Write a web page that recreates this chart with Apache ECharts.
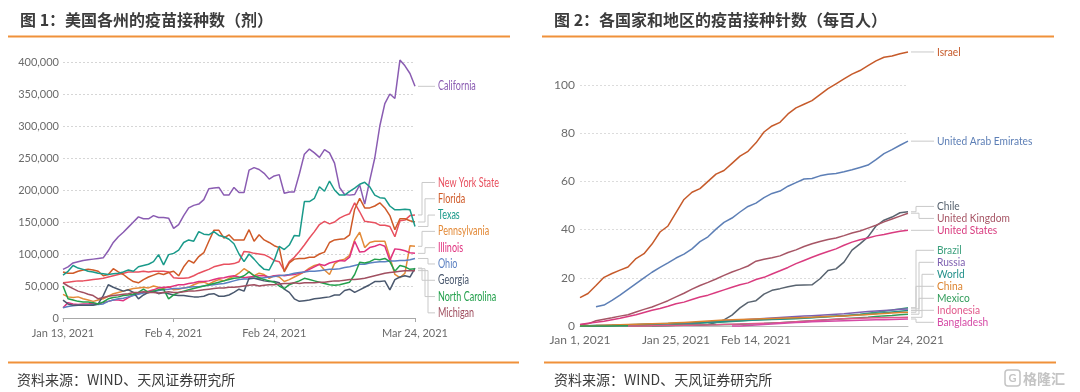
<!DOCTYPE html>
<html>
<head>
<meta charset="utf-8">
<script src="https://cdn.jsdelivr.net/npm/echarts@6/dist/echarts.min.js"></script>
<style>
html,body{margin:0;padding:0;background:#fff;}
#c{width:1080px;height:392px;}
</style>
</head>
<body>
<div id="c"></div>
<script>
// ---------- Titles / footers ----------
const leftTitle = '图 1：美国各州的疫苗接种数（剂）';
const rightTitle = '图 2：各国家和地区的疫苗接种针数（每百人）';
const sourceText = '资料来源：WIND、天风证券研究所';
const watermarkText = '格隆汇';

// ---------- Left chart: daily doses by US state (thousands), Jan 13 – Mar 24, 2021 ----------
const leftTickLabels = ['Jan 13, 2021', 'Feb 4, 2021', 'Feb 24, 2021', 'Mar 24, 2021'];
const leftNames = ['California', 'New York State', 'Florida', 'Texas', 'Pennsylvania', 'Illinois', 'Ohio', 'Georgia', 'North Carolina', 'Michigan'];

const california = [76,80,86,88,90,91,92,93,94,105,
  118,127,134,142,150,158,155,155,160,157,
  157,156,140,146,160,172,176,178,185,202,
  203,204,192,192,204,196,196,231,235,232,
  226,217,222,224,195,197,197,225,256,264,
  258,251,263,258,242,204,193,192,193,208,
  178,215,250,300,335,350,343,403,394,382,
  362];
const newYork = [55,56,57,58,58,59,60,61,62,64,
  66,68,70,72,72,72,73,72,73,73,
  73,72,63,62,62,63,66,70,73,76,
  80,82,84,84,85,88,104,103,101,100,
  99,95,90,88,74,88,95,104,114,125,
  135,146,151,147,150,156,160,163,180,166,
  151,150,149,145,145,143,127,152,153,160,
  161];
const florida = [72,70,70,73,75,76,75,73,66,68,
  77,72,68,62,57,55,60,64,67,70,
  68,71,73,66,80,90,86,96,102,120,
  137,137,125,130,122,122,122,138,120,130,
  122,118,113,110,72,86,92,93,93,95,
  95,100,103,118,122,123,124,130,170,187,
  172,172,175,180,172,160,138,155,155,152,
  150];
const texas = [67,73,82,78,76,73,72,70,69,68,
  69,70,72,75,73,80,82,84,88,99,
  83,99,101,106,118,122,120,135,131,130,
  135,129,127,123,116,100,88,100,92,83,
  76,75,90,112,107,114,129,128,182,182,
  187,205,198,214,200,192,192,198,203,209,
  212,205,192,188,187,175,169,169,170,169,
  143];
const pennsylvania = [37,33,32,33,30,28,26,28,30,34,
  38,40,42,44,46,47,48,47,50,48,
  46,49,44,45,47,48,52,55,56,53,
  57,60,58,62,65,70,77,72,66,70,
  68,62,66,64,57,60,64,68,72,78,
  82,84,75,68,85,90,92,98,122,134,
  110,118,120,120,120,95,68,63,70,113,
  112];
const illinois = [16,24,22,21,22,22,23,22,24,26,
  28,28,27,32,36,38,40,42,44,47,
  48,48,50,52,52,54,55,57,57,58,
  60,62,63,65,66,64,63,64,65,66,
  66,64,66,67,66,67,68,70,72,76,
  80,84,82,86,88,90,89,95,120,103,
  104,110,112,115,112,90,108,107,105,102,
  101];
const ohio = [16,18,19,20,20,20,21,21,22,26,
  28,30,31,33,35,37,39,40,41,43,
  44,45,46,46,47,48,49,49,50,51,
  52,53,54,56,58,60,61,61,62,62,
  63,64,65,66,67,68,70,71,72,73,
  73,74,75,76,76,77,79,80,82,84,
  84,86,87,88,88,89,89,90,90,91,
  93];
const georgia = [28,22,20,20,20,20,20,22,35,52,
  48,45,42,44,40,30,36,40,42,38,
  40,38,36,35,35,34,33,33,34,37,
  38,34,34,36,40,45,42,62,62,60,
  58,57,57,55,45,40,30,26,27,28,
  30,31,32,33,36,36,43,45,40,44,
  48,52,57,57,58,44,60,64,66,64,
  78];
const northCarolina = [50,30,28,26,25,25,24,22,25,30,
  32,33,35,36,37,40,45,40,42,44,
  45,30,36,40,42,44,46,48,50,52,
  54,56,58,60,62,63,66,72,66,63,
  60,58,56,50,46,52,55,58,62,60,
  58,56,54,52,51,52,54,56,68,87,
  86,88,92,91,93,88,73,82,80,76,
  77];
const michigan = [55,50,46,42,40,37,35,30,32,34,
  35,36,37,38,40,40,41,40,40,39,
  40,41,40,40,41,42,42,43,44,45,
  46,47,47,48,48,49,50,51,52,50,
  51,52,52,53,54,54,55,54,55,55,
  55,56,56,57,58,58,59,60,60,61,
  62,64,66,68,70,71,72,73,74,74,
  74];
const leftValues = [california, newYork, florida, texas, pennsylvania, illinois, ohio, georgia, northCarolina, michigan];

// ---------- Right chart: doses per 100 people, every 2 days, Jan 1 – Mar 24, 2021 ----------
const rightTickLabels = ['Jan 1, 2021', 'Jan 25, 2021', 'Feb 14, 2021', 'Mar 24, 2021'];
const rightNames = ['Israel', 'United Arab Emirates', 'Chile', 'United Kingdom', 'United States', 'Brazil', 'Russia', 'World', 'China', 'Mexico', 'Indonesia', 'Bangladesh'];

const israel = [11.8,13.5,16.8,20.2,21.8,23.2,24.5,28,30,34,
  39,41.5,47,52.5,55.5,57,60,63,64.5,67.5,
  70.5,72.5,76,80.5,83,84.5,88,90.5,92,93.5,
  96,98.5,100.5,102.5,104.5,106,108,110,111.5,112,
  113,113.7];
const uae = [null,null,8.0,8.7,10.6,12.8,15.2,17.6,20,22.3,
  24.3,26.2,28.2,29.8,32,35,37,40.2,43,44.8,
  47.3,49.6,51,53.3,55,56,58,59.5,61,61.2,
  62.3,63,63.3,64,64.8,65.8,66.8,69,71.5,73.2,
  75,76.7];
const chile = [0.01,0.02,0.03,0.05,0.07,0.1,0.12,0.15,0.18,0.2,
  0.22,0.25,0.28,0.3,0.3,0.35,0.6,1.4,2.5,4.5,
  7.5,9.8,10.5,13.2,14.8,15.5,16.3,16.9,17.0,17.1,
  19.6,23.0,23.7,26.5,31.5,34.1,37.0,41.5,43.9,45.2,
  47.0,47.4];
const unitedKingdom = [0.5,0.9,2.2,2.8,3.4,4.1,4.7,5.8,6.9,7.9,
  9.2,10.5,12.1,13.6,15.3,16.8,18.1,19.5,21,22.4,
  23.6,24.9,26.9,27.7,28.3,29.1,30.5,31.6,33,34.1,
  35.1,35.9,36.5,37.5,38.6,39.4,40.6,41.8,43.2,44.4,
  45.6,46.8];
const unitedStates = [0.6,1.1,1.6,2.0,2.6,3.2,3.9,4.7,5.6,6.5,
  7.3,8.2,9.2,9.9,11,12,12.8,13.9,15,16.1,
  17.1,17.9,19.3,20.2,21.6,22.9,24.3,25.9,27.2,28.5,
  29.8,30.9,32,33.5,34.8,35.8,36.5,37.4,38,38.7,
  39.3,39.7];
const brazil = [null,null,null,null,null,null,null,null,null,0.05,
  0.1,0.3,0.5,0.7,0.9,1.1,1.3,1.5,1.7,1.9,
  2.1,2.3,2.5,2.6,2.7,2.8,2.9,3.0,3.2,3.4,
  3.6,3.8,4.0,4.3,4.6,4.9,5.3,5.7,6.1,6.6,
  7.1,7.6];
const russia = [0.1,0.15,0.2,0.25,0.3,0.35,0.4,0.5,0.6,0.7,
  0.8,0.9,1.0,1.1,1.3,1.5,1.7,1.9,2.1,2.3,
  2.5,2.7,2.9,3.1,3.3,3.5,3.7,3.9,4.1,4.3,
  4.5,4.7,4.9,5.1,5.4,5.7,6.0,6.2,6.4,6.6,
  6.9,7.1];
const world = [0.1,0.15,0.2,0.25,0.3,0.4,0.5,0.6,0.7,0.8,
  0.9,1.0,1.1,1.2,1.3,1.45,1.6,1.75,1.9,2.05,
  2.2,2.35,2.5,2.65,2.8,2.95,3.1,3.25,3.4,3.55,
  3.7,3.9,4.1,4.3,4.5,4.7,4.9,5.2,5.5,5.8,
  6.1,6.4];
const china = [0.1,0.15,0.2,0.3,0.4,0.5,0.6,0.7,0.8,0.9,
  1.0,1.1,1.3,1.5,1.7,1.9,2.1,2.3,2.5,2.6,
  2.7,2.8,2.9,3.0,3.1,3.2,3.3,3.4,3.5,3.6,
  3.8,3.9,4.0,4.2,4.4,4.6,4.8,5.0,5.2,5.4,
  5.6,5.7];
const mexico = [0.0,0.01,0.02,0.03,0.05,0.07,0.09,0.1,0.12,0.15,
  0.18,0.2,0.3,0.35,0.4,0.45,0.5,0.55,0.6,0.65,
  0.7,0.8,0.9,1.0,1.2,1.4,1.6,1.8,2.0,2.2,
  2.4,2.6,2.8,3.0,3.2,3.4,3.6,3.9,4.2,4.4,
  4.7,4.9];
const indonesia = [null,null,null,null,null,null,0.01,0.02,0.05,0.1,
  0.15,0.2,0.25,0.3,0.35,0.4,0.45,0.5,0.6,0.7,
  0.8,0.9,1.0,1.1,1.2,1.4,1.6,1.8,2.0,2.2,
  2.4,2.6,2.8,3.0,3.1,3.2,3.3,3.4,3.45,3.5,
  3.55,3.6];
const bangladesh = [null,null,null,null,null,null,null,null,null,null,
  null,null,null,null,null,null,null,null,null,0.01,
  0.05,0.2,0.4,0.6,0.8,1.0,1.2,1.4,1.6,1.8,
  1.9,2.0,2.1,2.2,2.3,2.4,2.5,2.55,2.6,2.7,
  2.8,2.9];
const rightValues = [israel, uae, chile, unitedKingdom, unitedStates, brazil, russia, world, china, mexico, indonesia, bangladesh];

// ---------- Styles (kept apart from data) ----------
const leftColors = ['#8a5cb2', '#e8505f', '#cf5a28', '#1a9a8a', '#e38a38', '#e0327f', '#5b80c2', '#4a586e', '#23a04c', '#a04f60'];
const rightColors = ['#c65a2a', '#5d7fb6', '#58636f', '#a65565', '#d93b7f', '#3a9f7c', '#7d5fb0', '#22908a', '#dc8430', '#2f9b58', '#e0588a', '#d64aa6'];
const ORANGE = '#f0913a';
const LATIN = 'Lato, "Noto Sans", sans-serif';
const CJK = '"Noto Sans CJK SC", "Noto Sans", sans-serif';

// ---------- Category builders ----------
const MONTHS = ['Jan','Feb','Mar','Apr','May','Jun','Jul','Aug','Sep','Oct','Nov','Dec'];
function dateLabels(y, m, d, count, step) {
  const out = [];
  for (let i = 0; i < count; i++) {
    const dt = new Date(Date.UTC(y, m - 1, d + i * step));
    out.push(MONTHS[dt.getUTCMonth()] + ' ' + dt.getUTCDate() + ', ' + dt.getUTCFullYear());
  }
  return out;
}
const leftCategories = dateLabels(2021, 1, 13, california.length, 1);
const rightCategories = dateLabels(2021, 1, 1, israel.length, 2);

const chart = echarts.init(document.getElementById('c'), null, { renderer: 'canvas' });

function lineSeries(names, values, colors, axisIdx) {
  return names.map((n, i) => ({
    name: n, type: 'line', xAxisIndex: axisIdx, yAxisIndex: axisIdx,
    data: values[i], symbol: 'none', showSymbol: false, clip: false,
    connectNulls: false, animation: false,
    lineStyle: { width: 1.5, color: colors[i] }, itemStyle: { color: colors[i] },
    emphasis: { disabled: true }
  }));
}

const axisLabelBase = { color: '#6b6b6b', fontFamily: LATIN };

chart.setOption({
  animation: false,
  backgroundColor: '#fff',
  grid: [
    { left: 63, right: 665, top: 62, bottom: 74 },
    { left: 580, right: 172, top: 36.8, bottom: 66 }
  ],
  xAxis: [
    {
      type: 'category', gridIndex: 0, data: leftCategories, boundaryGap: false,
      axisLine: { lineStyle: { color: '#a8a8a8' } },
      axisTick: { show: true, length: 4, interval: (i, v) => leftTickLabels.includes(v), lineStyle: { color: '#a8a8a8' } },
      axisLabel: Object.assign({}, axisLabelBase, { fontSize: 11, margin: 10, interval: (i, v) => leftTickLabels.includes(v) }),
      splitLine: { show: false }
    },
    {
      type: 'category', gridIndex: 1, data: rightCategories, boundaryGap: false,
      axisLine: { lineStyle: { color: '#bdbdbd' } },
      axisTick: { show: false },
      axisLabel: Object.assign({}, axisLabelBase, { fontSize: 12, margin: 8, interval: (i, v) => rightTickLabels.includes(v) }),
      splitLine: { show: false }
    }
  ],
  yAxis: [
    {
      type: 'value', gridIndex: 0, min: 0, max: 400, interval: 50,
      axisLine: { show: false }, axisTick: { show: false },
      axisLabel: Object.assign({}, axisLabelBase, { fontSize: 11, margin: 4, formatter: v => (v * 1000).toLocaleString('en-US') }),
      splitLine: { show: true, lineStyle: { color: '#d6d6d6', type: [2, 2], width: 1 } }
    },
    {
      type: 'value', gridIndex: 1, min: 0, max: 120, interval: 20,
      axisLine: { show: false }, axisTick: { show: false },
      axisLabel: Object.assign({}, axisLabelBase, { fontSize: 12, margin: 5, showMaxLabel: false }),
      splitLine: { show: true, showMaxLine: false, lineStyle: { color: '#dcdcdc', type: [2, 2], width: 1 } }
    }
  ],
  series: lineSeries(leftNames, leftValues, leftColors, 0).concat(lineSeries(rightNames, rightValues, rightColors, 1))
});

// ---------- End labels with connectors (positions from the library's scales) ----------
function spreadLabels(items, gap, minY, maxY) {
  items.sort((a, b) => a.ty - b.ty);
  const clusters = items.map(it => ({ m: [it] }));
  const place = c => {
    const n = c.m.length;
    const mean = c.m.reduce((s, it) => s + it.ty, 0) / n;
    let top = mean - (n - 1) * gap / 2;
    if (top < minY) top = minY;
    if (top + (n - 1) * gap > maxY) top = maxY - (n - 1) * gap;
    c.top = top; c.bottom = top + (n - 1) * gap;
  };
  clusters.forEach(place);
  let merged = true;
  while (merged) {
    merged = false;
    for (let i = 0; i < clusters.length - 1; i++) {
      if (clusters[i].bottom + gap > clusters[i + 1].top + 0.01) {
        clusters[i].m = clusters[i].m.concat(clusters[i + 1].m);
        clusters.splice(i + 1, 1);
        place(clusters[i]);
        merged = true;
        break;
      }
    }
  }
  clusters.forEach(c => c.m.forEach((it, k) => { it.ly = c.top + k * gap; it.rank = k; }));
  return items;
}

function endLabels(names, values, colors, gridIndex, opts) {
  const items = names.map((n, i) => {
    const arr = values[i];
    const idx = arr.length - 1;
    const p = chart.convertToPixel({ gridIndex: gridIndex }, [idx, arr[idx]]);
    return { name: n, color: colors[i], x: p[0], ty: p[1] };
  });
  const top = chart.convertToPixel({ gridIndex: gridIndex }, [0, opts.topVal])[1];
  const bottom = chart.convertToPixel({ gridIndex: gridIndex }, [0, 0])[1];
  spreadLabels(items, opts.gap, top, bottom - opts.bottomPad);
  const els = [];
  items.forEach(it => {
    const tx = it.x + opts.textOffset;
    let pts;
    if (Math.abs(it.ly - it.ty) < 0.6) {
      pts = [[it.x + 3, it.ty], [tx - 3, it.ty]];
    } else {
      const xk = it.x + opts.elbow + (it.rank % 3) * 3;
      pts = [[it.x + 3, it.ty], [xk, it.ty], [xk, it.ly], [tx - 3, it.ly]];
    }
    els.push({ type: 'polyline', silent: true, shape: { points: pts }, style: { stroke: '#c9c9c9', lineWidth: 1, fill: null } });
    els.push({
      type: 'text', silent: true, x: tx, y: it.ly, scaleX: opts.scaleX, scaleY: 1,
      style: { text: it.name, fill: it.color, fontSize: opts.fontSize, fontFamily: LATIN, align: 'left', verticalAlign: 'middle' }
    });
  });
  return els;
}

const graphics = []
  .concat(endLabels(leftNames, leftValues, leftColors, 0, { gap: 16.3, topVal: 400, bottomPad: 4, textOffset: 23, elbow: 7, fontSize: 12.5, scaleX: 0.72 }))
  .concat(endLabels(rightNames, rightValues, rightColors, 1, { gap: 12, topVal: 120, bottomPad: 3.7, textOffset: 29, elbow: 8, fontSize: 12, scaleX: 0.85 }));

// titles, rules, footers
graphics.push(
  { type: 'text', silent: true, x: 20, y: 20, style: { text: leftTitle, fill: '#3c3c3c', font: 'bold 16px ' + CJK, verticalAlign: 'middle' } },
  { type: 'text', silent: true, x: 554, y: 20, style: { text: rightTitle, fill: '#3c3c3c', font: 'bold 16px ' + CJK, verticalAlign: 'middle' } },
  { type: 'line', silent: true, shape: { x1: 8, y1: 36.5, x2: 510, y2: 36.5 }, style: { stroke: ORANGE, lineWidth: 2 } },
  { type: 'line', silent: true, shape: { x1: 542, y1: 36.5, x2: 1054, y2: 36.5 }, style: { stroke: ORANGE, lineWidth: 2 } },
  { type: 'line', silent: true, shape: { x1: 8, y1: 362.5, x2: 519, y2: 362.5 }, style: { stroke: ORANGE, lineWidth: 2 } },
  { type: 'line', silent: true, shape: { x1: 544, y1: 362.5, x2: 1056, y2: 362.5 }, style: { stroke: ORANGE, lineWidth: 2 } },
  { type: 'text', silent: true, x: 17, y: 380, style: { text: sourceText, fill: '#3a3a3a', font: '14px ' + CJK, verticalAlign: 'middle' } },
  { type: 'text', silent: true, x: 554, y: 380, style: { text: sourceText, fill: '#3a3a3a', font: '14px ' + CJK, verticalAlign: 'middle' } },
  { type: 'rect', silent: true, shape: { x: 1005, y: 370, width: 15, height: 16, r: 3 }, style: { stroke: '#c4c4c4', lineWidth: 1.5, fill: null } },
  { type: 'text', silent: true, x: 1012.5, y: 378.5, style: { text: 'G', fill: '#c4c4c4', font: 'bold 11px ' + LATIN, align: 'center', verticalAlign: 'middle' } },
  { type: 'text', silent: true, x: 1023, y: 378.5, style: { text: watermarkText, fill: '#c4c4c4', font: 'bold 14px ' + CJK, verticalAlign: 'middle' } }
);

chart.setOption({ graphic: { elements: graphics } });
</script>
</body>
</html>
